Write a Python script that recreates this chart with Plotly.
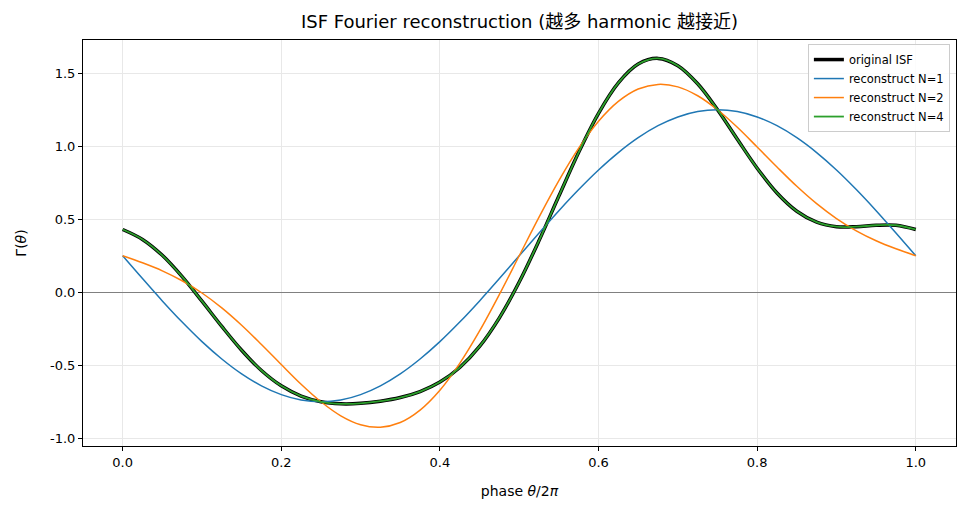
import plotly.graph_objects as go

# phase grid (theta / 2pi) and curve values
phase = [i / 40 for i in range(41)]

isf_original = [0.430, 0.362, 0.253, 0.107, -0.061, -0.234, -0.397, -0.536, -0.641, -0.711,
                -0.750, -0.764, -0.761, -0.746, -0.721, -0.680, -0.615, -0.515, -0.371, -0.175,
                0.070, 0.354, 0.659, 0.959, 1.226, 1.434, 1.563, 1.602, 1.552, 1.428,
                1.250, 1.048, 0.850, 0.680, 0.555, 0.480, 0.449, 0.449, 0.459, 0.459, 0.430]

recon_n1 = [0.250, 0.094, -0.059, -0.204, -0.338, -0.457, -0.559, -0.641, -0.701, -0.738,
            -0.750, -0.738, -0.701, -0.641, -0.559, -0.457, -0.338, -0.204, -0.059, 0.094,
            0.250, 0.406, 0.559, 0.704, 0.838, 0.957, 1.059, 1.141, 1.201, 1.238,
            1.250, 1.238, 1.201, 1.141, 1.059, 0.957, 0.838, 0.704, 0.559, 0.406, 0.250]

recon_n2 = [0.250, 0.202, 0.147, 0.079, -0.005, -0.107, -0.226, -0.358, -0.495, -0.630,
            -0.750, -0.846, -0.907, -0.924, -0.892, -0.807, -0.671, -0.487, -0.265, -0.015,
            0.250, 0.515, 0.765, 0.987, 1.171, 1.307, 1.392, 1.424, 1.407, 1.346,
            1.250, 1.130, 0.995, 0.858, 0.726, 0.607, 0.505, 0.421, 0.353, 0.298, 0.250]

recon_n4 = list(isf_original)

y_ticks = [-1.0, -0.5, 0.0, 0.5, 1.0, 1.5]
y_tick_text = ['-1.0', '-0.5', '0.0', '0.5', '1.0', '1.5']
x_ticks = [0.0, 0.2, 0.4, 0.6, 0.8, 1.0]
x_tick_text = ['0.0', '0.2', '0.4', '0.6', '0.8', '1.0']

font_main = 'DejaVu Sans, Noto Sans CJK SC, sans-serif'

fig = go.Figure()
fig.add_trace(go.Scatter(x=phase, y=isf_original, mode='lines', name='original ISF',
                         line=dict(color='black', width=3.5, shape='spline')))
fig.add_trace(go.Scatter(x=phase, y=recon_n1, mode='lines', name='reconstruct N=1',
                         line=dict(color='#1f77b4', width=1.5, shape='spline')))
fig.add_trace(go.Scatter(x=phase, y=recon_n2, mode='lines', name='reconstruct N=2',
                         line=dict(color='#ff7f0e', width=1.5, shape='spline')))
fig.add_trace(go.Scatter(x=phase, y=recon_n4, mode='lines', name='reconstruct N=4',
                         line=dict(color='#2ca02c', width=1.8, shape='spline')))

axis_common = dict(showline=True, linecolor='black', linewidth=1, mirror=True,
                   ticks='outside', ticklen=4, tickcolor='black',
                   showgrid=True, gridcolor='#e8e8e8', gridwidth=1,
                   tickfont=dict(size=13, color='black'))

# page body has an 8px margin, so the figure is 8px smaller and margins shifted
fig.update_layout(
    width=960, height=504,
    margin=dict(l=75, r=12, t=32, b=66),
    plot_bgcolor='white', paper_bgcolor='white',
    font=dict(family=font_main, color='black'),
    title=dict(text='ISF Fourier reconstruction (越多 harmonic 越接近)',
               x=511.5 / 960, xanchor='center', y=1 - 14 / 504, yanchor='middle',
               font=dict(size=18, color='black')),
    xaxis=dict(range=[-0.05, 1.0507], tickvals=x_ticks, ticktext=x_tick_text,
               zeroline=False, title=dict(text='phase <i>θ</i>/2<i>π</i>', font=dict(size=14), standoff=17),
               **axis_common),
    yaxis=dict(range=[-1.053, 1.728], tickvals=y_ticks, ticktext=y_tick_text,
               zeroline=True, zerolinecolor='#808080', zerolinewidth=1,
               title=dict(text='Γ(<i>θ</i>)', font=dict(size=14), standoff=20),
               **axis_common),
    legend=dict(x=0.993, y=0.99, xanchor='right', yanchor='top',
                bgcolor='rgba(255,255,255,0.85)', bordercolor='#cccccc', borderwidth=1,
                font=dict(size=11.5, color='black'), tracegroupgap=0, itemwidth=30),
    showlegend=True,
)

fig.write_html("out.html")
